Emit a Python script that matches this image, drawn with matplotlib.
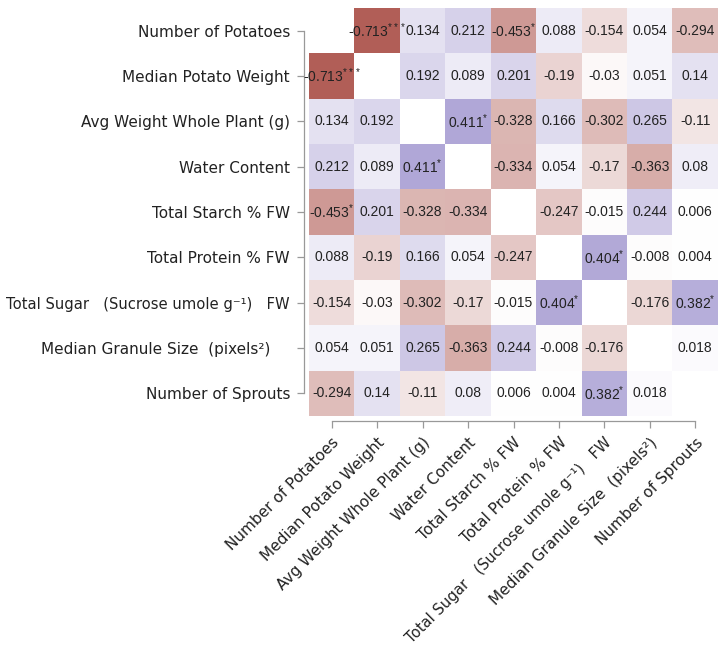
# correlation heatmap of potato traits (lower/upper symmetric, blank diagonal)

import numpy as np
import matplotlib
matplotlib.use('Agg')
from matplotlib import pyplot as plt
from matplotlib.colors import LinearSegmentedColormap

row_labels = [
    'Number of Potatoes',
    'Median Potato Weight',
    'Avg Weight Whole Plant (g)',
    'Water Content',
    'Total Starch % FW',
    'Total Protein % FW',
    'Total Sugar   (Sucrose umole g\u207b\u00b9)   FW',
    'Median Granule Size  (pixels\u00b2)    ',
    'Number of Sprouts',
]
col_labels = [
    'Number of Potatoes',
    'Median Potato Weight',
    'Avg Weight Whole Plant (g)',
    'Water Content',
    'Total Starch % FW',
    'Total Protein % FW',
    'Total Sugar   (Sucrose umole g\u207b\u00b9)   FW',
    'Median Granule Size  (pixels\u00b2)',
    'Number of Sprouts',
]

nan = np.nan
corr = [
    [nan, -0.713, 0.134, 0.212, -0.453, 0.088, -0.154, 0.054, -0.294],
    [-0.713, nan, 0.192, 0.089, 0.201, -0.19, -0.03, 0.051, 0.14],
    [0.134, 0.192, nan, 0.411, -0.328, 0.166, -0.302, 0.265, -0.11],
    [0.212, 0.089, 0.411, nan, -0.334, 0.054, -0.17, -0.363, 0.08],
    [-0.453, 0.201, -0.328, -0.334, nan, -0.247, -0.015, 0.244, 0.006],
    [0.088, -0.19, 0.166, 0.054, -0.247, nan, 0.404, -0.008, 0.004],
    [-0.154, -0.03, -0.302, -0.17, -0.015, 0.404, nan, -0.176, 0.382],
    [0.054, 0.051, 0.265, -0.363, 0.244, -0.008, -0.176, nan, 0.018],
    [-0.294, 0.14, -0.11, 0.08, 0.006, 0.004, 0.382, 0.018, nan],
]

# significance stars (upper triangle, mirrored)
stars = {(0, 1): '***', (0, 4): '*', (2, 3): '*', (5, 6): '*', (6, 8): '*'}

data = np.ma.masked_invalid(np.array(corr))
n = len(row_labels)

cmap = LinearSegmentedColormap.from_list(
    'redpurple', [(0.0, '#931f15'), (0.5, '#ffffff'), (1.0, '#412b9e')])

fig = plt.figure(figsize=(7.28, 6.51), dpi=100)
ax = fig.add_axes([309 / 728, 1 - 416 / 651, 409 / 728, 408 / 651])

ax.imshow(data, cmap=cmap, vmin=-1, vmax=1, aspect='auto', interpolation='nearest')

for i in range(n):
    for j in range(n):
        v = corr[i][j]
        if np.isnan(v):
            continue
        s = stars.get((i, j)) or stars.get((j, i)) or ''
        txt = f'{v:g}'
        if s:
            txt += r'$^{\mathregular{' + s + '}}$'
        ax.text(j, i, txt, ha='center', va='center', fontsize=10,
                family='Liberation Sans', color='#222222')

ax.set_xlim(-0.5, n - 0.5)
ax.set_ylim(n - 0.5, -0.5)

for side in ['top', 'right']:
    ax.spines[side].set_visible(False)
for side in ['left', 'bottom']:
    ax.spines[side].set_position(('outward', 3.6))
    ax.spines[side].set_bounds(0, n - 1)
    ax.spines[side].set_color('#999999')
    ax.spines[side].set_linewidth(0.9)

ax.tick_params(axis='both', length=5, width=0.9, color='#999999', pad=5)

ax.set_xticks(range(n))
ax.set_yticks(range(n))
ax.set_xticklabels(col_labels, fontsize=11, color='#222222')
ax.set_yticklabels(row_labels, fontsize=11, color='#222222')
plt.setp(ax.get_xticklabels(), rotation=45, ha='right', rotation_mode='anchor')
# long sugar label is a touch smaller so it fits
ax.get_yticklabels()[6].set_fontsize(10.6)
ax.get_xticklabels()[6].set_fontsize(10.6)

plt.savefig('out.png', dpi=100)
